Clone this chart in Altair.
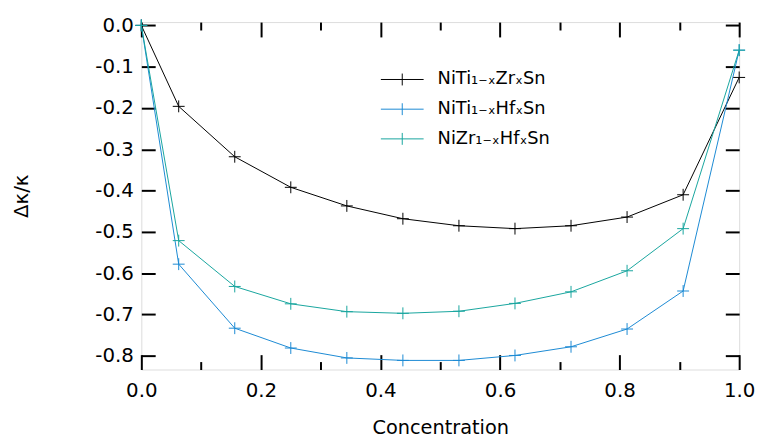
import altair as alt
import pandas as pd

# ---- data ----
conc = [0.0, 0.0625, 0.15625, 0.25, 0.34375, 0.4375, 0.53125, 0.625, 0.71875, 0.8125, 0.90625, 1.0]
ti_zr = [0.0, -0.196, -0.318, -0.392, -0.437, -0.468, -0.485, -0.492, -0.485, -0.464, -0.410, -0.126]
ti_hf = [0.0, -0.578, -0.733, -0.781, -0.805, -0.811, -0.811, -0.799, -0.778, -0.735, -0.643, -0.060]
zr_hf = [0.0, -0.521, -0.632, -0.674, -0.693, -0.697, -0.692, -0.673, -0.645, -0.594, -0.492, -0.060]

series_names = ["NiTi₁₋ₓZrₓSn", "NiTi₁₋ₓHfₓSn", "NiZr₁₋ₓHfₓSn"]
series_values = [ti_zr, ti_hf, zr_hf]
series_colors = ["#000000", "#1b8ad3", "#17a59e"]

x_major = [0.0, 0.2, 0.4, 0.6, 0.8, 1.0]
x_minor = [0.1, 0.3, 0.5, 0.7, 0.9]
y_ticks = [0.0, -0.1, -0.2, -0.3, -0.4, -0.5, -0.6, -0.7, -0.8]
x_domain = [0.0, 1.0]
y_domain = [-0.833, 0.008]
x_title = "Concentration"
y_title = "Δκ/κ"

rows = []
for name, vals in zip(series_names, series_values):
    for c, v in zip(conc, vals):
        rows.append({"series": name, "conc": c, "value": v})
df = pd.DataFrame(rows)

FONT = "DejaVu Sans"
PLUS = "M-1,0H1M0,-1V1"
LEGEND_SYMBOL = "M-3.6,0H3.6M0,-1V1"

xs = alt.Scale(domain=x_domain, nice=False, zero=False)
ys = alt.Scale(domain=y_domain, nice=False, zero=False)
cs = alt.Scale(domain=series_names, range=series_colors)


def tick_axis(orient, values, size):
    return alt.Axis(orient=orient, values=values, labels=False, domain=False,
                    grid=False, ticks=True, tickSize=size, tickWidth=2,
                    tickColor="black", offset=-size, title=None)


main_x = alt.Axis(orient="bottom", values=x_major, format=".1f", ticks=False,
                  domain=False, grid=False, labelFont=FONT, labelFontSize=20,
                  labelColor="black", labelPadding=11, labelFlush=False,
                  labelOverlap=False, title=x_title, titleFont=FONT,
                  titleFontSize=19.5, titleFontWeight="normal", titleColor="black",
                  titlePadding=19)

main_y = alt.Axis(orient="left", values=y_ticks, ticks=False, domain=False,
                  grid=False, labelFont=FONT, labelFontSize=20, labelColor="black",
                  labelPadding=8, labelFlush=False, labelOverlap=False,
                  labelExpr="(datum.value < 0 ? '-' : '') + format(abs(datum.value), '.1f')",
                  title=y_title, titleFont=FONT, titleFontSize=20,
                  titleFontWeight="normal", titleColor="black", titlePadding=64,
                  titleAngle=270, titleBaseline="bottom", titleAlign="center")

legend = alt.Legend(
    orient="none", legendX=254.6, legendY=49, title=None,
    symbolType=LEGEND_SYMBOL, symbolSize=144, symbolStrokeWidth=1,
    labelFont=FONT, labelFontSize=18, labelColor="black",
    labelOffset=26.7, rowPadding=12, padding=0)

base = alt.Chart(df)

lines = base.mark_line(strokeWidth=1).encode(
    x=alt.X("conc:Q", scale=xs, axis=main_x),
    y=alt.Y("value:Q", scale=ys, axis=main_y),
    color=alt.Color("series:N", scale=cs, legend=legend),
)

points = base.mark_point(shape=PLUS, size=144, filled=False, strokeWidth=1, opacity=1).encode(
    x=alt.X("conc:Q", scale=xs, axis=tick_axis("bottom", x_major, 15)),
    y=alt.Y("value:Q", scale=ys, axis=tick_axis("left", y_ticks, 14)),
    color=alt.Color("series:N", scale=cs, legend=legend),
)

ghost1 = base.mark_point(opacity=0).encode(
    x=alt.X("conc:Q", scale=xs, axis=tick_axis("bottom", x_minor, 8)),
    y=alt.Y("value:Q", scale=ys, axis=tick_axis("right", y_ticks, 14)),
)
ghost2 = base.mark_point(opacity=0).encode(
    x=alt.X("conc:Q", scale=xs, axis=tick_axis("top", x_major, 15)),
    y=alt.Y("value:Q", scale=ys, axis=None),
)
ghost3 = base.mark_point(opacity=0).encode(
    x=alt.X("conc:Q", scale=xs, axis=tick_axis("top", x_minor, 8)),
    y=alt.Y("value:Q", scale=ys, axis=None),
)

chart = alt.layer(lines, points, ghost1, ghost2, ghost3).resolve_axis(
    x="independent", y="independent"
).properties(
    width=604, height=351,
    padding={"left": 134.7, "top": 12, "right": 17, "bottom": 69},
    autosize=alt.AutoSizeParams(type="none"),
).configure_view(
    stroke="black", strokeWidth=2
).configure_axis(
    labelFont=FONT, labelFontSize=20, labelColor="black",
    titleFont=FONT, titleFontSize=20, titleFontWeight="normal", titleColor="black"
).configure_legend(
    labelFont=FONT, labelFontSize=18, labelColor="black"
).configure(background="white")

chart.save("out.html", embed_options={"renderer": "svg", "actions": False})
